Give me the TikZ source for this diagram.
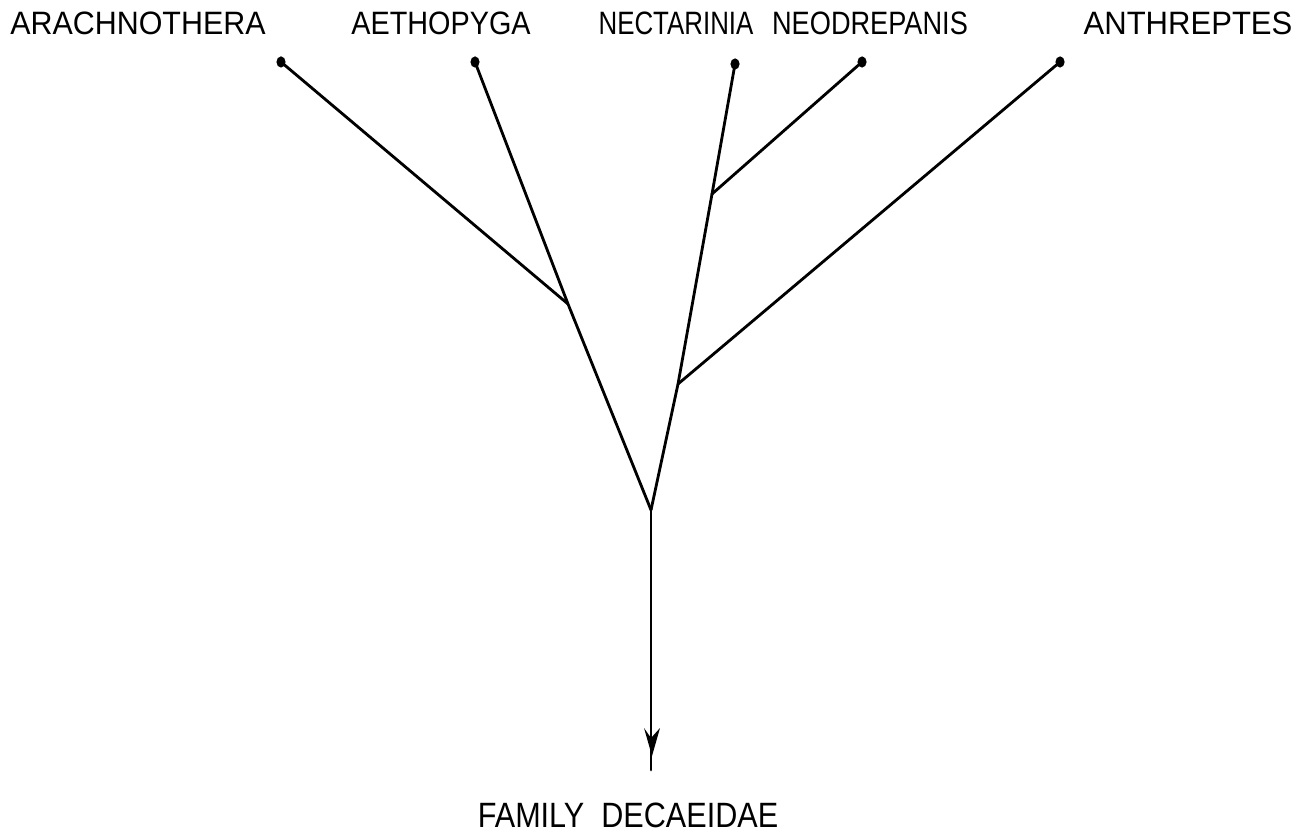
\documentclass[tikz,border=0pt]{standalone}
\usepackage{fontspec}
\setmainfont{Liberation Sans}
\usetikzlibrary{arrows.meta}
\begin{document}
\begin{tikzpicture}[x=0.01cm,y=-0.01cm,
  lbl/.style={font=\fontsize{9.2}{10}\selectfont, inner sep=0pt, anchor=center},
  br/.style={line width=0.8pt, line cap=round, line join=round}]
\useasboundingbox (0,0) rectangle (1304,831);
% labels
\node[lbl] (arachL) at (138,23) {\scalebox{0.94}[1]{ARACHNOTHERA}};
\node[lbl] (aethL) at (441,23) {\scalebox{0.89}[1]{AETHOPYGA}};
\node[lbl] (nectL) at (676,23) {\scalebox{0.80}[1]{NECTARINIA}};
\node[lbl] (neodL) at (870,23) {\scalebox{0.84}[1]{NEODREPANIS}};
\node[lbl] (anthL) at (1188,23) {\scalebox{0.96}[1]{ANTHREPTES}};
\node[lbl, font=\fontsize{10}{11}\selectfont] (famL) at (628,815) {\scalebox{0.87}[1]{FAMILY\ \ DECAEIDAE}};
% tips
\coordinate (arach) at (281,62);
\coordinate (aeth) at (475,62);
\coordinate (nect) at (735,64);
\coordinate (neod) at (862,62);
\coordinate (anth) at (1060,62);
% junctions
\coordinate (j1) at (568,304);
\coordinate (j2) at (712,194);
\coordinate (j3) at (678,384);
\coordinate (root) at (651,510);
\coordinate (end) at (651,770);
% dots
\foreach \p in {arach,aeth,nect,neod,anth}
  \fill (\p) ellipse [x radius=1.3pt, y radius=1.6pt];
% branches
\draw[br] (arach) -- (j1);
\draw[br] (aeth) -- (j1) -- (root);
\draw[br] (nect) -- (j2);
\draw[br] (neod) -- (j2);
\draw[br] (j2) -- (j3) -- (root);
\draw[br] (anth) -- (j3);
\draw[br] (root) -- (end);
% arrowhead
\fill (644,728) -- (651,738) -- (660,728) -- (652,756) -- cycle;
\end{tikzpicture}
\end{document}
